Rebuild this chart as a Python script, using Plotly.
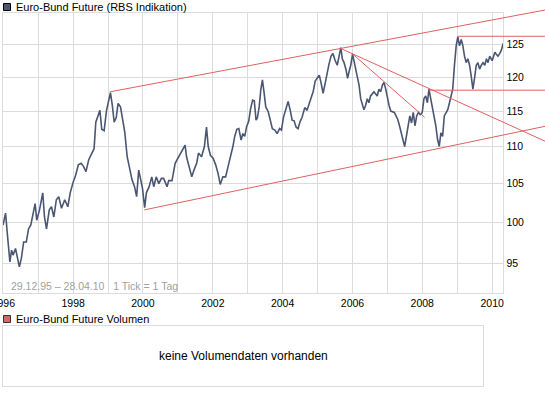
import math
import pandas as pd
import plotly.graph_objects as go

# ---------------- data ----------------
dates = [
    "1995-12-29", "1996-01-15", "1996-01-25", "1996-02-10", "1996-02-28", "1996-03-10", "1996-03-28",
    "1996-04-12", "1996-05-08", "1996-05-26", "1996-06-17", "1996-07-08", "1996-08-01", "1996-08-29",
    "1996-09-21", "1996-10-15", "1996-11-13", "1996-11-29", "1996-12-16", "1997-01-14", "1997-02-17",
    "1997-03-07", "1997-03-28", "1997-04-26", "1997-05-19", "1997-06-13", "1997-07-09", "1997-08-03",
    "1997-09-01", "1997-10-05", "1997-11-06", "1997-12-01", "1998-01-01", "1998-01-27", "1998-02-24",
    "1998-03-26", "1998-04-19", "1998-05-15", "1998-06-13", "1998-07-09", "1998-08-08", "1998-08-26",
    "1998-09-16", "1998-10-08", "1998-10-27", "1998-11-21", "1998-12-16", "1999-01-04", "1999-01-26",
    "1999-02-14", "1999-03-06", "1999-03-28", "1999-04-16", "1999-05-11", "1999-06-02", "1999-06-25",
    "1999-07-20", "1999-08-12", "1999-09-09", "1999-10-05", "1999-10-27", "1999-11-18", "1999-12-06",
    "1999-12-27", "2000-01-19", "2000-02-06", "2000-03-06", "2000-04-02", "2000-04-23", "2000-05-19",
    "2000-06-15", "2000-07-12", "2000-08-04", "2000-09-09", "2000-09-27", "2000-10-31", "2000-12-03",
    "2001-01-08", "2001-02-10", "2001-03-17", "2001-04-01", "2001-05-01", "2001-05-26", "2001-06-18",
    "2001-07-16", "2001-08-04", "2001-09-05", "2001-10-05", "2001-10-27", "2001-11-14", "2001-12-07",
    "2002-01-04", "2002-01-31", "2002-02-24", "2002-03-20", "2002-04-16", "2002-05-15", "2002-06-10",
    "2002-07-08", "2002-07-30", "2002-08-18", "2002-09-09", "2002-09-30", "2002-10-24", "2002-11-11",
    "2002-12-01", "2002-12-21", "2003-01-11", "2003-02-01", "2003-02-22", "2003-03-11", "2003-03-29",
    "2003-04-12", "2003-05-01", "2003-05-18", "2003-06-04", "2003-06-22", "2003-07-09", "2003-08-04",
    "2003-08-29", "2003-09-16", "2003-10-12", "2003-11-05", "2003-12-01", "2003-12-20", "2004-01-10",
    "2004-02-01", "2004-02-28", "2004-03-21", "2004-04-10", "2004-04-30", "2004-05-22", "2004-06-11",
    "2004-07-02", "2004-07-23", "2004-08-20", "2004-09-13", "2004-10-06", "2004-10-27", "2004-11-17",
    "2004-12-07", "2004-12-28", "2005-01-19", "2005-02-07", "2005-02-28", "2005-03-22", "2005-04-10",
    "2005-05-01", "2005-05-22", "2005-06-11", "2005-07-02", "2005-07-26", "2005-08-14", "2005-09-01",
    "2005-09-17", "2005-10-05", "2005-10-24", "2005-11-11", "2005-11-26", "2005-12-14", "2006-01-02",
    "2006-01-19", "2006-02-05", "2006-02-22", "2006-03-11", "2006-03-28", "2006-04-14", "2006-05-01",
    "2006-05-18", "2006-06-05", "2006-06-22", "2006-07-09", "2006-08-14", "2006-09-17", "2006-10-05",
    "2006-10-23", "2006-11-10", "2006-11-27", "2006-12-15", "2007-01-02", "2007-01-19", "2007-02-06",
    "2007-03-15", "2007-04-02", "2007-04-20", "2007-05-08", "2007-05-26", "2007-06-13", "2007-07-01",
    "2007-07-19", "2007-08-06", "2007-08-24", "2007-09-11", "2007-09-29", "2007-10-17", "2007-11-04",
    "2007-11-22", "2007-12-10", "2008-01-01", "2008-01-19", "2008-02-06", "2008-02-24", "2008-03-11",
    "2008-03-29", "2008-04-16", "2008-05-04", "2008-05-22", "2008-06-09", "2008-06-27", "2008-07-14",
    "2008-08-01", "2008-08-19", "2008-09-06", "2008-09-24", "2008-10-12", "2008-10-30", "2008-11-15",
    "2008-12-03", "2008-12-21", "2009-01-07", "2009-01-25", "2009-02-12", "2009-03-01", "2009-03-18",
    "2009-04-05", "2009-04-22", "2009-05-10", "2009-05-27", "2009-06-14", "2009-07-01", "2009-07-19",
    "2009-08-06", "2009-08-23", "2009-09-10", "2009-09-28", "2009-10-16", "2009-11-03", "2009-11-19",
    "2009-12-07", "2010-01-01", "2010-01-30", "2010-02-14", "2010-03-03", "2010-03-18", "2010-04-05",
    "2010-04-28",
]
prices = [
    99.7, 100.7, 101.2, 98.9, 97.0, 95.2, 96.6,
    96.0, 96.8, 95.8, 94.6, 95.6, 97.6, 97.6,
    99.2, 99.7, 101.2, 102.4, 100.3, 101.6, 103.8,
    100.7, 99.2, 101.6, 102.0, 100.7, 102.9, 103.3,
    101.8, 102.9, 102.0, 103.8, 105.2, 106.1, 107.5,
    107.7, 107.3, 106.6, 108.2, 108.8, 109.7, 113.4,
    114.2, 115.1, 112.4, 112.2, 115.1, 116.1, 117.7,
    115.9, 113.4, 114.1, 116.1, 115.6, 113.6, 112.0,
    108.6, 107.3, 105.5, 104.6, 103.3, 106.8, 105.7,
    104.4, 101.9, 103.8, 104.6, 105.9, 104.6, 105.9,
    105.0, 105.7, 105.7, 104.6, 105.4, 105.4, 107.7,
    108.6, 109.3, 110.2, 108.6, 107.0, 105.9, 106.8,
    107.7, 109.1, 108.6, 110.0, 112.7, 110.0, 108.8,
    108.4, 107.5, 106.4, 104.9, 105.9, 105.9, 107.3,
    108.6, 110.0, 111.4, 112.4, 112.5, 110.9, 111.8,
    111.4, 112.8, 113.5, 115.4, 116.6, 116.5, 113.7,
    114.0, 115.6, 118.1, 119.6, 117.6, 115.6, 114.9,
    113.7, 112.5, 112.3, 111.8, 112.5, 112.3, 114.1,
    115.1, 116.4, 115.1, 113.7, 113.6, 112.7, 112.5,
    113.5, 114.1, 115.5, 115.1, 116.2, 117.1, 117.9,
    119.4, 119.9, 120.3, 119.1, 117.6, 119.1, 120.6,
    122.0, 123.2, 123.6, 122.6, 121.8, 123.2, 124.5,
    122.8, 122.2, 121.2, 119.8, 120.8, 121.8, 123.5,
    122.2, 121.2, 120.2, 118.8, 116.8, 115.8, 115.2,
    115.8, 116.8, 116.2, 117.2, 117.8, 117.2, 118.2,
    117.8, 118.8, 119.2, 118.2, 116.8, 115.8, 115.0,
    114.8, 114.3, 113.8, 112.9, 111.9, 111.0, 110.0,
    111.4, 112.9, 114.3, 113.3, 114.8, 112.9, 114.3,
    114.8, 114.5, 114.8, 116.8, 117.2, 116.2, 118.2,
    116.8, 115.2, 114.3, 112.9, 111.0, 110.0, 111.9,
    111.4, 114.3, 114.8, 115.2, 116.2, 117.2, 118.2,
    121.8, 124.8, 126.2, 124.8, 125.8, 124.8, 123.2,
    122.2, 122.8, 121.8, 120.2, 118.2, 119.8, 121.8,
    122.2, 121.2, 121.8, 122.2, 121.8, 122.8, 122.2,
    123.2, 122.5, 123.8, 123.5, 123.2, 123.5, 124.0,
    125.2,
]
y_ticks = [95, 100, 105, 110, 115, 120, 125]

# trend lines: start point, second point, extend to the right border or not
trend_start_dates = ["1999-01-19", "2000-01-15", "2005-08-29", "2005-12-28", "2009-01-05", "2008-03-05"]
trend_start_vals = [117.8, 101.6, 124.4, 123.6, 126.3, 118.05]
trend_end_dates = ["2010-04-28", "2010-04-28", "2010-04-28", "2008-01-26", "2010-04-28", "2010-04-28"]
trend_end_vals = [129.25, 111.6, 113.4, 114.1, 126.3, 118.05]
trend_extend = [True, True, True, False, True, True]

title_main = "Euro-Bund Future (RBS Indikation)"
title_vol = "Euro-Bund Future Volumen"
no_vol_text = "keine Volumendaten vorhanden"
period_text = "29.12.95 \u2013 28.04.10\u00a0\u00a0 1 Tick = 1 Tag"

# ---------------- geometry (pixels) ----------------
W, H = 545, 395
ML = 3
PW = W - ML
plot_l, plot_r, plot_t, plot_b = 3, 503.3, 13, 293
vol_r, vol_t, vol_b = 483, 326, 386

def px_x(p):
    return (p - ML) / PW

def px_y(p):
    return (H - p) / H

t0 = pd.Timestamp("1995-12-29")
t1 = pd.Timestamp("2010-04-28")
t2 = t1 + (t1 - t0) * ((W - plot_r) / (plot_r - plot_l))

v_top, v_bot = 130.04, 91.55
ly0, ly1 = math.log10(v_bot), math.log10(v_top)
ly2 = ly1 + (ly1 - ly0) * (plot_t / (plot_b - plot_t))

LINE = "#4a5672"
RED = "#e06060"
GRID = "#dcdcdc"
FONT = "Liberation Sans"

fig = go.Figure()
fig.add_trace(go.Scatter(x=pd.to_datetime(dates), y=prices, mode="lines",
                         line=dict(color=LINE, width=1.6), xaxis="x", yaxis="y",
                         hoverinfo="skip", showlegend=False))

for sd, sv, ed, ev, ext in zip(trend_start_dates, trend_start_vals, trend_end_dates, trend_end_vals, trend_extend):
    a, b = pd.Timestamp(sd), pd.Timestamp(ed)
    xs, ys = [a, b], [sv, ev]
    if ext:
        la, lb = math.log10(sv), math.log10(ev)
        frac = (t2 - a) / (b - a)
        xs = [a, t2]
        ys = [sv, 10 ** (la + (lb - la) * frac)]
    fig.add_trace(go.Scatter(x=xs, y=ys, mode="lines", line=dict(color=RED, width=1),
                             xaxis="x2", yaxis="y2", hoverinfo="skip", showlegend=False))

fig.add_trace(go.Scatter(x=[0], y=[0], mode="markers", marker=dict(opacity=0),
                         xaxis="x3", yaxis="y3", hoverinfo="skip", showlegend=False))

fig.update_layout(
    width=W, height=H, autosize=False, template="none",
    margin=dict(l=ML, r=0, t=0, b=0, pad=0),
    paper_bgcolor="white", plot_bgcolor="rgba(0,0,0,0)",
    font=dict(family=FONT, size=11, color="black"),
    xaxis=dict(type="date", domain=[px_x(plot_l), px_x(plot_r)], range=[t0, t1], anchor="y",
               tick0="1996-01-01", dtick="M24", tickformat="%Y", ticks="",
               ticklabeloverflow="allow",
               showgrid=True, gridcolor=GRID, gridwidth=1,
               minor=dict(tick0="1996-01-01", dtick="M12", showgrid=True, gridcolor=GRID, gridwidth=1),
               showline=True, mirror=True, linecolor=GRID, linewidth=1,
               tickfont=dict(size=10.5), automargin=False, zeroline=False, fixedrange=True),
    yaxis=dict(type="log", domain=[px_y(plot_b), px_y(plot_t)], range=[ly0, ly1], anchor="x",
               side="right", tickvals=y_ticks, ticktext=[str(v) for v in y_ticks], ticks="",
               ticklabeloverflow="allow",
               showgrid=True, gridcolor=GRID, gridwidth=1,
               showline=True, mirror=True, linecolor=GRID, linewidth=1,
               tickfont=dict(size=10.5), automargin=False, zeroline=False, fixedrange=True),
    xaxis2=dict(type="date", domain=[px_x(plot_l), 1], range=[t0, t2], anchor="y2", visible=False,
                automargin=False, fixedrange=True),
    yaxis2=dict(type="log", domain=[px_y(plot_b), 1], range=[ly0, ly2], anchor="x2", visible=False,
                automargin=False, fixedrange=True),
    xaxis3=dict(domain=[px_x(plot_l), px_x(vol_r)], range=[0, 1], anchor="y3",
                showgrid=False, showticklabels=False, ticks="", zeroline=False,
                showline=True, mirror=True, linecolor=GRID, linewidth=1, automargin=False, fixedrange=True),
    yaxis3=dict(domain=[px_y(vol_b), px_y(vol_t)], range=[0, 1], anchor="x3",
                showgrid=False, showticklabels=False, ticks="", zeroline=False,
                showline=True, mirror=True, linecolor=GRID, linewidth=1, automargin=False, fixedrange=True),
)

shapes = [
    dict(type="rect", xref="paper", yref="paper", x0=px_x(3.5), x1=px_x(10.5), y0=px_y(3.5), y1=px_y(10.5),
         fillcolor="#4a5672", line=dict(color="black", width=1)),
    dict(type="rect", xref="paper", yref="paper", x0=px_x(3.5), x1=px_x(10.5), y0=px_y(315.5), y1=px_y(322.5),
         fillcolor="#d96666", line=dict(color="#333333", width=1)),
]
annotations = [
    dict(text=title_main, xref="paper", yref="paper", x=px_x(13.5), y=px_y(7), xanchor="left", yanchor="middle",
         showarrow=False, font=dict(size=11, color="black")),
    dict(text=title_vol, xref="paper", yref="paper", x=px_x(14), y=px_y(319), xanchor="left", yanchor="middle",
         showarrow=False, font=dict(size=11, color="black")),
    dict(text=period_text, xref="paper", yref="paper", x=px_x(9), y=px_y(286), xanchor="left", yanchor="middle",
         showarrow=False, font=dict(size=10.5, color="#a0a0a0")),
    dict(text=no_vol_text, xref="x3 domain", yref="y3 domain", x=0.5, y=0.5, xanchor="center", yanchor="middle",
         showarrow=False, font=dict(size=12, color="black")),
]
fig.update_layout(shapes=shapes, annotations=annotations)

fig.write_html("out.html", config={"displayModeBar": False},
               post_script="document.body.style.margin='0';document.body.style.overflow='hidden';")
